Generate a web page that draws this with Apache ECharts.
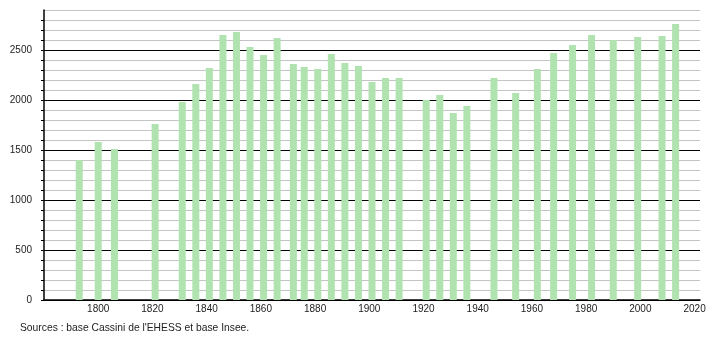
<!DOCTYPE html>
<html><head><meta charset="utf-8">
<script src="https://cdn.jsdelivr.net/npm/echarts@6/dist/echarts.min.js"></script>
<style>html,body{margin:0;padding:0;background:#fff}#c{width:710px;height:340px}</style>
</head><body><div id="c"></div>
<script>
const years = [1793,1800,1806,1821,1831,1836,1841,1846,1851,1856,1861,1866,1872,1876,1881,1886,1891,1896,1901,1906,1911,1921,1926,1931,1936,1946,1954,1962,1968,1975,1982,1990,1999,2008,2013];
const population = [1400,1580,1510,1760,1980,2160,2320,2650,2680,2530,2450,2620,2360,2330,2310,2460,2370,2340,2180,2220,2220,2000,2050,1870,1940,2220,2070,2310,2470,2550,2650,2600,2630,2640,2760];
const sourceText = "Sources : base Cassini de l'EHESS et base Insee.";

const chart = echarts.init(document.getElementById('c'), null, {renderer:'canvas'});
const font = 'Liberation Sans, Arial, sans-serif';
chart.setOption({
  animation:false,
  backgroundColor:'#fff',
  grid:{left:44,right:10,top:10,bottom:40},
  xAxis:{type:'value',min:1780,max:2022,interval:20,
    axisLine:{onZero:false,lineStyle:{color:'#000',width:1.5}},
    axisTick:{show:false},
    splitLine:{show:false},
    axisLabel:{color:'#222',fontFamily:font,fontSize:10,margin:4,
      formatter:v=> (v%20===0 && v>1780) ? String(v) : ''}},
  yAxis:{type:'value',min:0,max:2900,interval:100,
    axisLine:{show:true,lineStyle:{color:'#000',width:1.5}},
    axisTick:{show:true,length:3,lineStyle:{color:'#000'}},
    splitLine:{show:true,lineStyle:{color:['#000','#c4c4c4','#c4c4c4','#c4c4c4','#c4c4c4'],width:1}},
    axisLabel:{color:'#222',fontFamily:font,fontSize:10,margin:12,showMaxLabel:false,
      formatter:v=> v%500===0 ? String(v) : ''}},
  graphic:[{type:'text',left:20,top:323,style:{text:sourceText,fill:'#222',font:'10.3px '+font}}],
  series:[{type:'bar',barWidth:7,itemStyle:{color:'#b1e3b1'},
    data:years.map((y,i)=>[y,population[i]])}]
});
</script></body></html>
